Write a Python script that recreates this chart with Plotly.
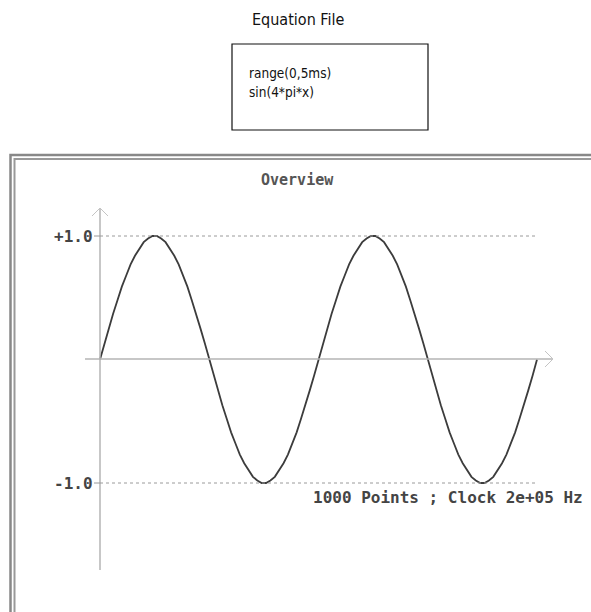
import plotly.graph_objects as go

# ---------------- data ----------------
signal_values = [
    0.00, 0.13, 0.25, 0.37, 0.48, 0.59, 0.68, 0.77, 0.84, 0.90,
    0.95, 0.98, 1.00, 1.00, 0.98, 0.95, 0.90, 0.84, 0.77, 0.68,
    0.59, 0.48, 0.37, 0.25, 0.13, 0.00, -0.13, -0.25, -0.37, -0.48,
    -0.59, -0.68, -0.77, -0.84, -0.90, -0.95, -0.98, -1.00, -1.00, -0.98,
    -0.95, -0.90, -0.84, -0.77, -0.68, -0.59, -0.48, -0.37, -0.25, -0.13,
    0.00, 0.13, 0.25, 0.37, 0.48, 0.59, 0.68, 0.77, 0.84, 0.90,
    0.95, 0.98, 1.00, 1.00, 0.98, 0.95, 0.90, 0.84, 0.77, 0.68,
    0.59, 0.48, 0.37, 0.25, 0.13, 0.00, -0.13, -0.25, -0.37, -0.48,
    -0.59, -0.68, -0.77, -0.84, -0.90, -0.95, -0.98, -1.00, -1.00, -0.98,
    -0.95, -0.90, -0.84, -0.77, -0.68, -0.59, -0.48, -0.37, -0.25, -0.13,
    0.00,
]
duration_ms = 5.0
y_ticks = [1.0, -1.0]
y_tick_labels = ["+1.0", "-1.0"]
title_text = "Equation File"
equation_lines = ["range(0,5ms)", "sin(4*pi*x)"]
panel_title = "Overview"
info_text = "1000 Points ; Clock 2e+05 Hz"

n = len(signal_values)
time_ms = [duration_ms * i / (n - 1) for i in range(n)]

# ---------------- geometry (pixels) ----------------
W, H = 591, 612
X0_PX, X1_PX = 100, 537      # pixel of t=0 and t=end
YP_PX, YN_PX = 236, 483      # pixel of +1 and -1

sx = (X1_PX - X0_PX) / duration_ms
x_range = [-X0_PX / sx, (W - X0_PX) / sx]
sy = (YN_PX - YP_PX) / 2.0
yc = (YP_PX + YN_PX) / 2.0
y_range = [-(H - yc) / sy, yc / sy]


def px(x):
    return x / W


def py(y):
    return 1 - y / H


NARROW = "Liberation Sans Narrow, Arial Narrow, DejaVu Sans Condensed, sans-serif"
MONO = "DejaVu Sans Mono, monospace"
AXIS_C = "#b4b4b4"

fig = go.Figure()
fig.add_trace(go.Scatter(
    x=time_ms, y=signal_values, mode="lines",
    line=dict(color="#3c3c3c", width=1.8),
    hoverinfo="skip", showlegend=False,
))

shapes = []
# equation box
shapes.append(dict(type="rect", xref="paper", yref="paper",
                   x0=px(232), x1=px(428), y0=py(130), y1=py(44),
                   line=dict(color="#111111", width=1.2)))
# double frame (open to the right and bottom)
shapes.append(dict(type="path", xref="paper", yref="paper",
                   path=f"M {px(10.5)},{py(H+5)} L {px(10.5)},{py(155)} L {px(W+5)},{py(155)}",
                   line=dict(color="#888888", width=2.5)))
shapes.append(dict(type="path", xref="paper", yref="paper",
                   path=f"M {px(14.5)},{py(H+5)} L {px(14.5)},{py(159)} L {px(W+5)},{py(159)}",
                   line=dict(color="#999999", width=2)))
# y axis with arrow
shapes.append(dict(type="line", xref="paper", yref="paper",
                   x0=px(100), x1=px(100), y0=py(208), y1=py(570),
                   line=dict(color=AXIS_C, width=1.5)))
shapes.append(dict(type="path", xref="paper", yref="paper",
                   path=f"M {px(92)},{py(216)} L {px(100)},{py(208)} L {px(108)},{py(216)}",
                   line=dict(color="#c4c4c4", width=1)))
# x axis with arrow
shapes.append(dict(type="line", xref="paper", yref="paper",
                   x0=px(85), x1=px(553), y0=py(359), y1=py(359),
                   line=dict(color=AXIS_C, width=1.5)))
shapes.append(dict(type="path", xref="paper", yref="paper",
                   path=f"M {px(545)},{py(351)} L {px(553)},{py(359)} L {px(545)},{py(367)}",
                   line=dict(color="#c4c4c4", width=1)))
# dotted gridlines + tick marks at +/-1 (data coords)
for v in y_ticks:
    shapes.append(dict(type="line", xref="x", yref="y",
                       x0=0, x1=duration_ms, y0=v, y1=v,
                       line=dict(color="#9a9a9a", width=1, dash="dot")))
    shapes.append(dict(type="line", xref="paper", yref="y",
                       x0=px(94), x1=px(100), y0=v, y1=v,
                       line=dict(color="#9a9a9a", width=1)))

annotations = []
annotations.append(dict(text=title_text, x=px(298), y=py(20), xref="paper", yref="paper",
                        showarrow=False, xanchor="center", yanchor="middle",
                        font=dict(family=NARROW, size=16, color="#111111")))
for i, line in enumerate(equation_lines):
    annotations.append(dict(text=line, x=px(247), y=py(73 + 19 * i), xref="paper", yref="paper",
                            showarrow=False, xanchor="left", yanchor="middle",
                            font=dict(family=NARROW, size=13.5, color="#111111")))
annotations.append(dict(text=panel_title, x=px(297), y=py(180), xref="paper", yref="paper",
                        showarrow=False, xanchor="center", yanchor="middle",
                        font=dict(family=MONO, size=15, color="#555555", weight="bold")))
for v, lab in zip(y_ticks, y_tick_labels):
    annotations.append(dict(text=lab, x=px(95), y=v, xref="paper", yref="y",
                            showarrow=False, xanchor="right", yanchor="middle",
                            font=dict(family=MONO, size=16, color="#444444", weight="bold")))
annotations.append(dict(text=info_text, x=px(311), y=py(497), xref="paper", yref="paper",
                        showarrow=False, xanchor="left", yanchor="middle",
                        font=dict(family=MONO, size=16, color="#444444", weight="bold")))

fig.update_layout(
    width=W, height=H, autosize=False,
    margin=dict(l=0, r=0, t=0, b=0, pad=0),
    paper_bgcolor="white", plot_bgcolor="white",
    xaxis=dict(range=x_range, visible=False, fixedrange=True, domain=[0, 1]),
    yaxis=dict(range=y_range, visible=False, fixedrange=True, domain=[0, 1]),
    shapes=shapes, annotations=annotations, showlegend=False,
)

fig.write_html(
    "out.html",
    config={"displayModeBar": False},
    post_script="document.body.style.margin='0px';document.body.style.overflow='hidden';",
)
